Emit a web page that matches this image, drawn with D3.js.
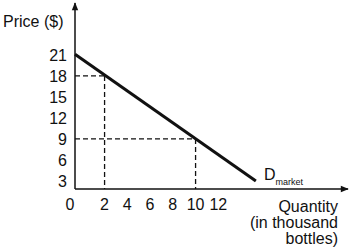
<!DOCTYPE html>
<html>
<head>
<meta charset="utf-8">
<script src="https://cdn.jsdelivr.net/npm/d3@7"></script>
<style>
  body { margin: 0; background: #fff; }
  svg text { font-family: "Liberation Sans", Arial, sans-serif; fill: #111; }
</style>
</head>
<body>
<svg id="chart" width="352" height="250"></svg>
<script>
// Demand for bottled water (schematic)
const priceTicks = [3, 6, 9, 12, 15, 18, 21];
const quantityTicks = [2, 4, 6, 8, 10, 12];
const demandQuantity = [-0.6, 15.3];
const demandPrice = [21.1, 3.0];
// points with dashed guides
const guideQuantity = [2, 10];
const guidePrice = [18, 9];

const svg = d3.select('#chart');

const x = d3.scaleLinear().domain([-0.6, 23.4]).range([75, 348]);
const y = d3.scaleLinear().domain([1.86, 28.4]).range([189, 3]);

// arrow head
svg.append('defs').append('marker')
    .attr('id', 'arrow')
    .attr('viewBox', '0 0 10 10')
    .attr('refX', 9).attr('refY', 5)
    .attr('markerWidth', 10).attr('markerHeight', 8)
    .attr('markerUnits', 'userSpaceOnUse')
    .attr('orient', 'auto')
    .append('path')
    .attr('d', 'M0,1 L10,5 L0,9 Z')
    .attr('fill', '#111');

// dashed guides
guideQuantity.forEach((q, i) => {
    const p = guidePrice[i];
    svg.append('line')
        .attr('x1', x.range()[0]).attr('x2', x(q))
        .attr('y1', y(p)).attr('y2', y(p))
        .attr('stroke', '#111').attr('stroke-width', 1.3)
        .attr('stroke-dasharray', '5,3');
    svg.append('line')
        .attr('x1', x(q)).attr('x2', x(q))
        .attr('y1', y(p)).attr('y2', y.range()[0])
        .attr('stroke', '#111').attr('stroke-width', 1.3)
        .attr('stroke-dasharray', '5,3');
});

// axes
svg.append('line')
    .attr('x1', x.range()[0]).attr('x2', x.range()[0])
    .attr('y1', y.range()[0]).attr('y2', y.range()[1])
    .attr('stroke', '#111').attr('stroke-width', 1.5)
    .attr('marker-end', 'url(#arrow)');
svg.append('line')
    .attr('x1', x.range()[0]).attr('x2', x.range()[1])
    .attr('y1', y.range()[0]).attr('y2', y.range()[0])
    .attr('stroke', '#111').attr('stroke-width', 1.5)
    .attr('marker-end', 'url(#arrow)');

// demand curve
const line = d3.line().x(d => x(d[0])).y(d => y(d[1]));
svg.append('path')
    .datum(demandQuantity.map((q, i) => [q, demandPrice[i]]))
    .attr('d', line)
    .attr('fill', 'none')
    .attr('stroke', '#111')
    .attr('stroke-width', 3);

// tick labels
svg.selectAll('.ytick').data(priceTicks).enter().append('text')
    .attr('x', 67).attr('y', d => y(d)).attr('dy', '0.36em')
    .attr('text-anchor', 'end').attr('font-size', 16)
    .text(d => d);
svg.selectAll('.xtick').data(quantityTicks).enter().append('text')
    .attr('x', d => x(d)).attr('y', 210)
    .attr('text-anchor', 'middle').attr('font-size', 16)
    .text(d => d);
svg.append('text')
    .attr('x', 70).attr('y', 210)
    .attr('text-anchor', 'middle').attr('font-size', 16)
    .text('0');

// axis titles
svg.append('text')
    .attr('x', 3).attr('y', 27)
    .attr('font-size', 16)
    .text('Price ($)');
const qTitle = svg.append('text')
    .attr('text-anchor', 'end').attr('font-size', 16);
['Quantity', '(in thousand', 'bottles)'].forEach((t, i) => {
    qTitle.append('tspan').attr('x', 338).attr('y', 212 + i * 16).text(t);
});

// curve label
const dLabel = svg.append('text')
    .attr('x', 264).attr('y', 180).attr('font-size', 16);
dLabel.append('tspan').text('D');
dLabel.append('tspan').attr('font-size', 9).attr('dy', 5).text('market');
</script>
</body>
</html>
